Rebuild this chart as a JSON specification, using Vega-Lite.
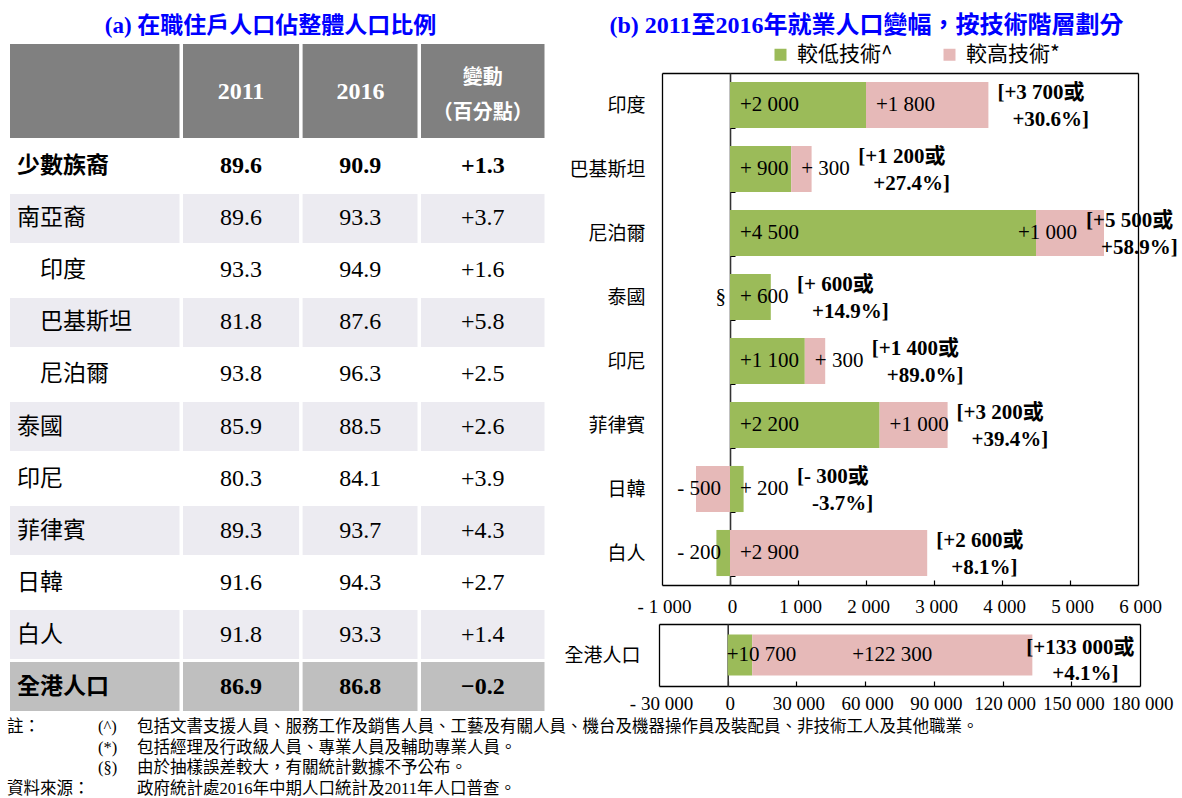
{
  "$schema": "https://vega.github.io/schema/vega-lite/v6.json",
  "width": 1182,
  "height": 798,
  "autosize": {"type": "none"},
  "padding": 0,
  "background": "#FFFFFF",
  "config": {
    "view": {"stroke": null},
    "axis": {"grid": false, "labelColor": "#000000", "domainColor": "#000000", "tickColor": "#000000"},
    "legend": {"padding": 0}
  },
  "datasets": {
    "table": [
      {"name": "少數族裔", "y2011": 89.6, "y2016": 90.9, "chg": 1.3},
      {"name": "南亞裔", "y2011": 89.6, "y2016": 93.3, "chg": 3.7},
      {"name": "印度", "y2011": 93.3, "y2016": 94.9, "chg": 1.6},
      {"name": "巴基斯坦", "y2011": 81.8, "y2016": 87.6, "chg": 5.8},
      {"name": "尼泊爾", "y2011": 93.8, "y2016": 96.3, "chg": 2.5},
      {"name": "泰國", "y2011": 85.9, "y2016": 88.5, "chg": 2.6},
      {"name": "印尼", "y2011": 80.3, "y2016": 84.1, "chg": 3.9},
      {"name": "菲律賓", "y2011": 89.3, "y2016": 93.7, "chg": 4.3},
      {"name": "日韓", "y2011": 91.6, "y2016": 94.3, "chg": 2.7},
      {"name": "白人", "y2011": 91.8, "y2016": 93.3, "chg": 1.4},
      {"name": "全港人口", "y2011": 86.9, "y2016": 86.8, "chg": -0.2}
    ],
    "header": [
      {"col": 0, "text": ""},
      {"col": 1, "text": "2011"},
      {"col": 2, "text": "2016"},
      {"col": 3, "text": ["變動", "（百分點）"]}
    ],
    "segments": [
      {"region": "印度", "skill": "較低技術^", "value": 2000, "label": "+2 000"},
      {"region": "印度", "skill": "較高技術*", "value": 1800, "label": "+1 800"},
      {"region": "巴基斯坦", "skill": "較低技術^", "value": 900, "label": "+ 900"},
      {"region": "巴基斯坦", "skill": "較高技術*", "value": 300, "label": "+ 300"},
      {"region": "尼泊爾", "skill": "較低技術^", "value": 4500, "label": "+4 500"},
      {"region": "尼泊爾", "skill": "較高技術*", "value": 1000, "label": "+1 000"},
      {"region": "泰國", "skill": "較低技術^", "value": 600, "label": "+ 600"},
      {"region": "泰國", "skill": "較高技術*", "value": null, "label": "§"},
      {"region": "印尼", "skill": "較低技術^", "value": 1100, "label": "+1 100"},
      {"region": "印尼", "skill": "較高技術*", "value": 300, "label": "+ 300"},
      {"region": "菲律賓", "skill": "較低技術^", "value": 2200, "label": "+2 200"},
      {"region": "菲律賓", "skill": "較高技術*", "value": 1000, "label": "+1 000"},
      {"region": "日韓", "skill": "較低技術^", "value": 200, "label": "+ 200"},
      {"region": "日韓", "skill": "較高技術*", "value": -500, "label": "- 500"},
      {"region": "白人", "skill": "較低技術^", "value": -200, "label": "- 200"},
      {"region": "白人", "skill": "較高技術*", "value": 2900, "label": "+2 900"}
    ],
    "overall": [
      {"region": "全港人口", "skill": "較低技術^", "value": 10700, "label": "+10 700"},
      {"region": "全港人口", "skill": "較高技術*", "value": 122300, "label": "+122 300"}
    ],
    "totals": [
      {"region": "印度", "total": "[+3 700或", "pct": "+30.6%]"},
      {"region": "巴基斯坦", "total": "[+1 200或", "pct": "+27.4%]"},
      {"region": "尼泊爾", "total": "[+5 500或", "pct": "+58.9%]"},
      {"region": "泰國", "total": "[+ 600或", "pct": "+14.9%]"},
      {"region": "印尼", "total": "[+1 400或", "pct": "+89.0%]"},
      {"region": "菲律賓", "total": "[+3 200或", "pct": "+39.4%]"},
      {"region": "日韓", "total": "[- 300或", "pct": "-3.7%]"},
      {"region": "白人", "total": "[+2 600或", "pct": "+8.1%]"},
      {"region": "全港人口", "total": "[+133 000或", "pct": "+4.1%]"}
    ],
    "notes": [
      {"line": 1, "head": "註：", "sym": "(^)", "body": "包括文書支援人員、服務工作及銷售人員、工藝及有關人員、機台及機器操作員及裝配員、非技術工人及其他職業。"},
      {"line": 2, "head": "", "sym": "(*)", "body": "包括經理及行政級人員、專業人員及輔助專業人員。"},
      {"line": 3, "head": "", "sym": "(§)", "body": "由於抽樣誤差較大，有關統計數據不予公布。"},
      {"line": 4, "head": "資料來源：", "sym": "", "body": "政府統計處2016年中期人口統計及2011年人口普查。"}
    ]
  },
  "layer": [
    {
      "data": {"name": "table"},
      "encoding": {
        "y": {"field": "name", "type": "nominal", "scale": {"domain": ["少數族裔", "南亞裔", "印度", "巴基斯坦", "尼泊爾", "泰國", "印尼", "菲律賓", "日韓", "白人", "全港人口"], "range": [142, 711], "paddingInner": 0.0577, "paddingOuter": 0}, "axis": null}
      },
      "layer": [
        {
          "mark": {"type": "rect", "x2Offset": -3.5},
          "encoding": {
            "x": {"datum": 0, "type": "quantitative", "scale": {"domain": [0, 1, 2, 3, 4], "range": [10, 183, 302.6, 421, 548], "nice": false, "zero": false}, "axis": null},
            "x2": {"datum": 1},
            "fill": {"condition": [{"test": "datum.name === '全港人口'", "value": "#BFBFBF"}, {"test": "indexof(['南亞裔','巴基斯坦','泰國','菲律賓','白人'], datum.name) >= 0", "value": "#ECEBF1"}], "value": "#FFFFFF"}
          }
        },
        {
          "mark": {"type": "rect", "x2Offset": -3.5},
          "encoding": {
            "x": {"datum": 1, "type": "quantitative", "scale": {"domain": [0, 1, 2, 3, 4], "range": [10, 183, 302.6, 421, 548], "nice": false, "zero": false}, "axis": null},
            "x2": {"datum": 2},
            "fill": {"condition": [{"test": "datum.name === '全港人口'", "value": "#BFBFBF"}, {"test": "indexof(['南亞裔','巴基斯坦','泰國','菲律賓','白人'], datum.name) >= 0", "value": "#ECEBF1"}], "value": "#FFFFFF"}
          }
        },
        {
          "mark": {"type": "rect", "x2Offset": -3.5},
          "encoding": {
            "x": {"datum": 2, "type": "quantitative", "scale": {"domain": [0, 1, 2, 3, 4], "range": [10, 183, 302.6, 421, 548], "nice": false, "zero": false}, "axis": null},
            "x2": {"datum": 3},
            "fill": {"condition": [{"test": "datum.name === '全港人口'", "value": "#BFBFBF"}, {"test": "indexof(['南亞裔','巴基斯坦','泰國','菲律賓','白人'], datum.name) >= 0", "value": "#ECEBF1"}], "value": "#FFFFFF"}
          }
        },
        {
          "mark": {"type": "rect", "x2Offset": -3.5},
          "encoding": {
            "x": {"datum": 3, "type": "quantitative", "scale": {"domain": [0, 1, 2, 3, 4], "range": [10, 183, 302.6, 421, 548], "nice": false, "zero": false}, "axis": null},
            "x2": {"datum": 4},
            "fill": {"condition": [{"test": "datum.name === '全港人口'", "value": "#BFBFBF"}, {"test": "indexof(['南亞裔','巴基斯坦','泰國','菲律賓','白人'], datum.name) >= 0", "value": "#ECEBF1"}], "value": "#FFFFFF"}
          }
        },
        {
          "mark": {"type": "text", "align": "left", "baseline": "middle", "font": "Noto Sans CJK TC", "fontSize": 23, "color": "#000000",
            "fontWeight": {"expr": "datum.name === '少數族裔' || datum.name === '全港人口' ? 'bold' : 'normal'"},
            "dx": {"expr": "indexof(['印度','巴基斯坦','尼泊爾'], datum.name) >= 0 ? 30 : 7"}},
          "encoding": {
            "x": {"datum": 0, "type": "quantitative", "scale": {"domain": [0, 1, 2, 3, 4], "range": [10, 183, 302.6, 421, 548], "nice": false, "zero": false}, "axis": null},
            "text": {"field": "name", "type": "nominal"}
          }
        },
        {
          "mark": {"type": "text", "align": "center", "baseline": "middle", "font": "Liberation Serif", "fontSize": 24, "color": "#000000", "dx": 58,
            "fontWeight": {"expr": "datum.name === '少數族裔' || datum.name === '全港人口' ? 'bold' : 'normal'"}},
          "encoding": {
            "x": {"datum": 1, "type": "quantitative", "scale": {"domain": [0, 1, 2, 3, 4], "range": [10, 183, 302.6, 421, 548], "nice": false, "zero": false}, "axis": null},
            "text": {"field": "y2011", "type": "quantitative", "format": ".1f"}
          }
        },
        {
          "mark": {"type": "text", "align": "center", "baseline": "middle", "font": "Liberation Serif", "fontSize": 24, "color": "#000000", "dx": 57.7,
            "fontWeight": {"expr": "datum.name === '少數族裔' || datum.name === '全港人口' ? 'bold' : 'normal'"}},
          "encoding": {
            "x": {"datum": 2, "type": "quantitative", "scale": {"domain": [0, 1, 2, 3, 4], "range": [10, 183, 302.6, 421, 548], "nice": false, "zero": false}, "axis": null},
            "text": {"field": "y2016", "type": "quantitative", "format": ".1f"}
          }
        },
        {
          "mark": {"type": "text", "align": "center", "baseline": "middle", "font": "Liberation Serif", "fontSize": 24, "color": "#000000", "dx": 61.8,
            "fontWeight": {"expr": "datum.name === '少數族裔' || datum.name === '全港人口' ? 'bold' : 'normal'"}},
          "encoding": {
            "x": {"datum": 3, "type": "quantitative", "scale": {"domain": [0, 1, 2, 3, 4], "range": [10, 183, 302.6, 421, 548], "nice": false, "zero": false}, "axis": null},
            "text": {"field": "chg", "type": "quantitative", "format": "+.1f"}
          }
        }
      ]
    },
    {
      "data": {"name": "header"},
      "encoding": {
        "y": {"datum": "h", "type": "nominal", "scale": {"domain": ["h"], "range": [44, 138], "paddingInner": 0, "paddingOuter": 0}, "axis": null}
      },
      "layer": [
        {
          "transform": [{"filter": "datum.col === 0"}],
          "mark": {"type": "rect", "x2Offset": -3.5, "color": "#808080"},
          "encoding": {
            "x": {"datum": 0, "type": "quantitative", "scale": {"domain": [0, 1, 2, 3, 4], "range": [10, 183, 302.6, 421, 548], "nice": false, "zero": false}, "axis": null},
            "x2": {"datum": 1}
          }
        },
        {
          "transform": [{"filter": "datum.col === 1"}],
          "mark": {"type": "rect", "x2Offset": -3.5, "color": "#808080"},
          "encoding": {
            "x": {"datum": 1, "type": "quantitative", "scale": {"domain": [0, 1, 2, 3, 4], "range": [10, 183, 302.6, 421, 548], "nice": false, "zero": false}, "axis": null},
            "x2": {"datum": 2}
          }
        },
        {
          "transform": [{"filter": "datum.col === 2"}],
          "mark": {"type": "rect", "x2Offset": -3.5, "color": "#808080"},
          "encoding": {
            "x": {"datum": 2, "type": "quantitative", "scale": {"domain": [0, 1, 2, 3, 4], "range": [10, 183, 302.6, 421, 548], "nice": false, "zero": false}, "axis": null},
            "x2": {"datum": 3}
          }
        },
        {
          "transform": [{"filter": "datum.col === 3"}],
          "mark": {"type": "rect", "x2Offset": -3.5, "color": "#808080"},
          "encoding": {
            "x": {"datum": 3, "type": "quantitative", "scale": {"domain": [0, 1, 2, 3, 4], "range": [10, 183, 302.6, 421, 548], "nice": false, "zero": false}, "axis": null},
            "x2": {"datum": 4}
          }
        },
        {
          "transform": [{"filter": "datum.col > 0"}],
          "mark": {"type": "text", "align": "center", "baseline": "middle", "color": "#FFFFFF", "fontWeight": "bold", "lineHeight": 35,
            "font": {"expr": "datum.col === 3 ? 'Noto Sans CJK TC' : 'Liberation Serif'"},
            "fontSize": {"expr": "datum.col === 3 ? 20 : 24"},
            "dx": {"expr": "datum.col === 3 ? 61.8 : 58"},
            "dy": {"expr": "datum.col === 3 ? -13 : 1"}},
          "encoding": {
            "x": {"field": "col", "type": "quantitative", "scale": {"domain": [0, 1, 2, 3, 4], "range": [10, 183, 302.6, 421, 548], "nice": false, "zero": false}, "axis": null},
            "text": {"field": "text", "type": "nominal"}
          }
        }
      ]
    },
    {
      "data": {"name": "header"},
      "mark": {"type": "point", "opacity": 0},
      "encoding": {
        "x": {"field": "col", "type": "quantitative", "scale": {"domain": [0, 1, 2, 3, 4], "range": [10, 183, 302.6, 421, 548], "nice": false, "zero": false},
          "axis": {"orient": "top", "offset": 0, "domain": false, "ticks": false, "labels": false, "title": "(a) 在職住戶人口佔整體人口比例", "titleX": 270, "titleY": 25, "titleAlign": "center", "titleBaseline": "middle", "titleFont": "Liberation Serif, Noto Sans CJK TC", "titleFontSize": 23, "titleFontWeight": "bold", "titleColor": "#0000FF"}}
      }
    },
    {
      "data": {"name": "segments"},
      "transform": [
        {"stack": "value", "groupby": ["region"], "sort": [{"field": "skill", "order": "ascending"}], "as": ["v0", "v1"], "offset": "zero"},
        {"joinaggregate": [{"op": "max", "field": "v1", "as": "end"}], "groupby": ["region"]}
      ],
      "encoding": {
        "y": {"field": "region", "type": "nominal", "scale": {"domain": ["印度", "巴基斯坦", "尼泊爾", "泰國", "印尼", "菲律賓", "日韓", "白人"], "range": [73, 585], "paddingInner": 0.28, "paddingOuter": 0.14}, "axis": null}
      },
      "layer": [
        {
          "transform": [{"filter": "isValid(datum.value)"}],
          "mark": {"type": "bar"},
          "encoding": {
            "x": {"field": "v0", "type": "quantitative", "scale": {"domain": [-1000, 6000], "range": [662, 1138], "nice": false, "zero": false}, "axis": null},
            "x2": {"field": "v1"},
            "color": {"field": "skill", "type": "nominal", "scale": {"domain": ["較低技術^", "較高技術*"], "range": ["#9BBB59", "#E6B9B8"]},
              "legend": {"orient": "none", "legendX": 770, "legendY": 44, "direction": "horizontal", "title": null, "symbolType": "square", "symbolSize": 144, "symbolStrokeWidth": 0, "labelFont": "Noto Sans CJK TC", "labelFontSize": 21, "labelColor": "#000000", "labelOffset": 6, "columnPadding": 46, "labelLimit": 300}}
          }
        },
        {
          "transform": [{"filter": "datum.value > 0"}],
          "mark": {"type": "text", "align": "left", "baseline": "middle", "font": "Liberation Serif", "fontSize": 21, "color": "#000000",
            "dx": {"expr": "datum.v1 > 5000 ? -18 : 10"}},
          "encoding": {
            "x": {"field": "v0", "type": "quantitative", "scale": {"domain": [-1000, 6000], "range": [662, 1138], "nice": false, "zero": false}, "axis": null},
            "text": {"field": "label", "type": "nominal"}
          }
        },
        {
          "transform": [{"filter": "!(datum.value > 0)"}],
          "mark": {"type": "text", "align": "right", "baseline": "middle", "font": "Liberation Serif", "fontSize": 21, "color": "#000000",
            "dx": {"expr": "datum.label === '§' ? -4 : -9"}},
          "encoding": {
            "x": {"datum": 0, "type": "quantitative", "scale": {"domain": [-1000, 6000], "range": [662, 1138], "nice": false, "zero": false}, "axis": null},
            "text": {"field": "label", "type": "nominal"}
          }
        },
        {
          "transform": [
            {"filter": "datum.skill === '較高技術*'"},
            {"lookup": "region", "from": {"data": {"name": "totals"}, "key": "region", "fields": ["total", "pct"]}}
          ],
          "mark": {"type": "text", "align": "left", "baseline": "middle", "font": "Liberation Serif, Noto Sans CJK TC", "fontSize": 21, "fontWeight": "bold", "color": "#000000", "dy": -12,
            "dx": {"expr": "(datum.value > 0 ? datum.value : datum.end) < 850 ? 67 - 0.068 * (datum.value > 0 ? datum.value : datum.end) : (datum.end > 5000 ? -18 : 9)"}},
          "encoding": {
            "x": {"field": "end", "type": "quantitative", "scale": {"domain": [-1000, 6000], "range": [662, 1138], "nice": false, "zero": false}, "axis": null},
            "text": {"field": "total", "type": "nominal"}
          }
        },
        {
          "transform": [
            {"filter": "datum.skill === '較高技術*'"},
            {"lookup": "region", "from": {"data": {"name": "totals"}, "key": "region", "fields": ["total", "pct"]}}
          ],
          "mark": {"type": "text", "align": "left", "baseline": "middle", "font": "Liberation Serif, Noto Sans CJK TC", "fontSize": 21, "fontWeight": "bold", "color": "#000000", "dy": 15,
            "dx": {"expr": "(datum.value > 0 ? datum.value : datum.end) < 850 ? 82 - 0.068 * (datum.value > 0 ? datum.value : datum.end) : (datum.end > 5000 ? -3 : 24)"}},
          "encoding": {
            "x": {"field": "end", "type": "quantitative", "scale": {"domain": [-1000, 6000], "range": [662, 1138], "nice": false, "zero": false}, "axis": null},
            "text": {"field": "pct", "type": "nominal"}
          }
        }
      ]
    },
    {
      "data": {"name": "segments"},
      "mark": {"type": "point", "opacity": 0},
      "encoding": {
        "x": {"field": "value", "type": "quantitative", "scale": {"domain": [-1000, 6000], "range": [662, 1138], "nice": false, "zero": false},
          "axis": {"orient": "bottom", "offset": -213, "values": [-1000, 0, 1000, 2000, 3000, 4000, 5000, 6000], "labelExpr": "(datum.value < 0 ? '- ' : '') + replace(format(abs(datum.value), ','), regexp(',', 'g'), ' ')", "domain": true, "domainWidth": 1.3, "ticks": false, "tickSize": 0, "labelPadding": 12, "labelOffset": 2, "labelFont": "Liberation Serif", "labelFontSize": 19, "labelFlush": false, "labelOverlap": false, "title": null}},
        "y": {"field": "region", "type": "nominal", "scale": {"domain": ["印度", "巴基斯坦", "尼泊爾", "泰國", "印尼", "菲律賓", "日韓", "白人"], "range": [73, 585], "paddingInner": 0.28, "paddingOuter": 0.14},
          "axis": {"orient": "left", "offset": -662, "domain": true, "domainWidth": 1.3, "ticks": false, "tickSize": 0, "labelPadding": 17, "labelFont": "Noto Sans CJK TC", "labelFontSize": 19, "labelLimit": 200, "title": null}}
      }
    },
    {
      "data": {"name": "segments"},
      "mark": {"type": "point", "opacity": 0},
      "encoding": {
        "x": {"field": "value", "type": "quantitative", "scale": {"domain": [-1000, 6000], "range": [662, 1138], "nice": false, "zero": false},
          "axis": {"orient": "top", "offset": -73, "domain": true, "domainWidth": 1.3, "ticks": false, "labels": false, "title": "(b) 2011至2016年就業人口變幅，按技術階層劃分", "titleX": 866, "titleY": -48, "titleAlign": "center", "titleBaseline": "middle", "titleFont": "Liberation Serif, Noto Sans CJK TC", "titleFontSize": 24, "titleFontWeight": "bold", "titleColor": "#0000FF"}},
        "y": {"field": "region", "type": "nominal", "scale": {"domain": ["印度", "巴基斯坦", "尼泊爾", "泰國", "印尼", "菲律賓", "日韓", "白人"], "range": [73, 585], "paddingInner": 0.28, "paddingOuter": 0.14},
          "axis": {"orient": "right", "offset": -44, "domain": true, "domainWidth": 1.3, "ticks": false, "labels": false, "title": null}}
      }
    },
    {
      "data": {"name": "segments"},
      "mark": {"type": "point", "opacity": 0},
      "encoding": {
        "x": {"field": "value", "type": "quantitative", "scale": {"domain": [-1000, 6000], "range": [662, 1138], "nice": false, "zero": false},
          "axis": {"orient": "top", "offset": -585, "domain": false, "ticks": true, "tickSize": 5, "tickWidth": 1.2, "labels": false, "values": [0, 1000, 2000, 3000, 4000, 5000], "title": null}},
        "y": {"field": "region", "type": "nominal", "scale": {"domain": ["印度", "巴基斯坦", "尼泊爾", "泰國", "印尼", "菲律賓", "日韓", "白人"], "range": [73, 585], "paddingInner": 0.28, "paddingOuter": 0.14},
          "axis": {"orient": "right", "offset": -452, "domain": true, "domainColor": "#333333", "domainWidth": 1.6, "ticks": true, "tickSize": 5, "tickBand": "extent", "labels": false, "title": null}}
      }
    },
    {
      "data": {"name": "overall"},
      "transform": [
        {"stack": "value", "groupby": ["region"], "sort": [{"field": "skill", "order": "ascending"}], "as": ["v0", "v1"], "offset": "zero"}
      ],
      "encoding": {
        "y": {"field": "region", "type": "nominal", "scale": {"domain": ["全港人口"], "range": [624, 686], "paddingInner": 0, "paddingOuter": 0.256}, "axis": null}
      },
      "layer": [
        {
          "mark": {"type": "bar"},
          "encoding": {
            "x": {"field": "v0", "type": "quantitative", "scale": {"domain": [-30000, 180000], "range": [659, 1140], "nice": false, "zero": false}, "axis": null},
            "x2": {"field": "v1"},
            "color": {"field": "skill", "type": "nominal", "scale": {"domain": ["較低技術^", "較高技術*"], "range": ["#9BBB59", "#E6B9B8"]},
              "legend": {"orient": "none", "legendX": 770, "legendY": 44, "direction": "horizontal", "title": null, "symbolType": "square", "symbolSize": 144, "symbolStrokeWidth": 0, "labelFont": "Noto Sans CJK TC", "labelFontSize": 21, "labelColor": "#000000", "labelOffset": 6, "columnPadding": 46, "labelLimit": 300}}
          }
        },
        {
          "mark": {"type": "text", "align": "left", "baseline": "middle", "font": "Liberation Serif", "fontSize": 21, "color": "#000000",
            "dx": {"expr": "datum.skill === '較低技術^' ? -1 : 100"}},
          "encoding": {
            "x": {"field": "v0", "type": "quantitative", "scale": {"domain": [-30000, 180000], "range": [659, 1140], "nice": false, "zero": false}, "axis": null},
            "text": {"field": "label", "type": "nominal"}
          }
        },
        {
          "transform": [
            {"filter": "datum.skill === '較高技術*'"},
            {"lookup": "region", "from": {"data": {"name": "totals"}, "key": "region", "fields": ["total", "pct"]}}
          ],
          "mark": {"type": "text", "align": "left", "baseline": "middle", "font": "Liberation Serif, Noto Sans CJK TC", "fontSize": 21, "fontWeight": "bold", "color": "#000000", "dx": -6, "dy": -7},
          "encoding": {
            "x": {"field": "v1", "type": "quantitative", "scale": {"domain": [-30000, 180000], "range": [659, 1140], "nice": false, "zero": false}, "axis": null},
            "text": {"field": "total", "type": "nominal"}
          }
        },
        {
          "transform": [
            {"filter": "datum.skill === '較高技術*'"},
            {"lookup": "region", "from": {"data": {"name": "totals"}, "key": "region", "fields": ["total", "pct"]}}
          ],
          "mark": {"type": "text", "align": "left", "baseline": "middle", "font": "Liberation Serif, Noto Sans CJK TC", "fontSize": 21, "fontWeight": "bold", "color": "#000000", "dx": 20, "dy": 19},
          "encoding": {
            "x": {"field": "v1", "type": "quantitative", "scale": {"domain": [-30000, 180000], "range": [659, 1140], "nice": false, "zero": false}, "axis": null},
            "text": {"field": "pct", "type": "nominal"}
          }
        }
      ]
    },
    {
      "data": {"name": "overall"},
      "mark": {"type": "point", "opacity": 0},
      "encoding": {
        "x": {"field": "value", "type": "quantitative", "scale": {"domain": [-30000, 180000], "range": [659, 1140], "nice": false, "zero": false},
          "axis": {"orient": "bottom", "offset": -112, "values": [-30000, 0, 30000, 60000, 90000, 120000, 150000, 180000], "labelExpr": "(datum.value < 0 ? '- ' : '') + replace(format(abs(datum.value), ','), regexp(',', 'g'), ' ')", "domain": true, "domainWidth": 1.3, "ticks": false, "tickSize": 0, "labelPadding": 8, "labelOffset": 2, "labelFont": "Liberation Serif", "labelFontSize": 19, "labelFlush": false, "labelOverlap": false, "title": null}},
        "y": {"field": "region", "type": "nominal", "scale": {"domain": ["全港人口"], "range": [624, 686], "paddingInner": 0, "paddingOuter": 0.256},
          "axis": {"orient": "left", "offset": -659, "domain": true, "domainWidth": 1.3, "ticks": false, "tickSize": 0, "labelPadding": 19, "labelFont": "Noto Sans CJK TC", "labelFontSize": 19, "labelLimit": 200, "title": null}}
      }
    },
    {
      "data": {"name": "overall"},
      "mark": {"type": "point", "opacity": 0},
      "encoding": {
        "x": {"field": "value", "type": "quantitative", "scale": {"domain": [-30000, 180000], "range": [659, 1140], "nice": false, "zero": false},
          "axis": {"orient": "top", "offset": -624, "domain": true, "domainWidth": 1.3, "ticks": false, "labels": false, "title": null}},
        "y": {"field": "region", "type": "nominal", "scale": {"domain": ["全港人口"], "range": [624, 686], "paddingInner": 0, "paddingOuter": 0.256},
          "axis": {"orient": "right", "offset": -42, "domain": true, "domainWidth": 1.3, "ticks": false, "labels": false, "title": null}}
      }
    },
    {
      "data": {"name": "overall"},
      "mark": {"type": "point", "opacity": 0},
      "encoding": {
        "x": {"field": "value", "type": "quantitative", "scale": {"domain": [-30000, 180000], "range": [659, 1140], "nice": false, "zero": false},
          "axis": {"orient": "top", "offset": -686, "domain": false, "ticks": true, "tickSize": 5, "tickWidth": 1.2, "labels": false, "values": [0, 30000, 60000, 90000, 120000, 150000], "title": null}},
        "y": {"field": "region", "type": "nominal", "scale": {"domain": ["全港人口"], "range": [624, 686], "paddingInner": 0, "paddingOuter": 0.256},
          "axis": {"orient": "right", "offset": -454.3, "domain": true, "domainColor": "#333333", "domainWidth": 1.6, "ticks": false, "labels": false, "title": null}}
      }
    },
    {
      "data": {"name": "notes"},
      "encoding": {
        "y": {"field": "line", "type": "ordinal", "scale": {"type": "point", "domain": [1, 2, 3, 4], "range": [727, 789], "padding": 0}, "axis": null}
      },
      "layer": [
        {
          "mark": {"type": "text", "align": "left", "baseline": "middle", "font": "Noto Sans CJK TC", "fontSize": 16.5, "color": "#000000"},
          "encoding": {
            "x": {"datum": 0, "type": "quantitative", "scale": {"domain": [0, 1, 2], "range": [7, 98, 137], "nice": false, "zero": false}, "axis": null},
            "text": {"field": "head", "type": "nominal"}
          }
        },
        {
          "mark": {"type": "text", "align": "left", "baseline": "middle", "font": "Liberation Serif", "fontSize": 16.5, "color": "#000000"},
          "encoding": {
            "x": {"datum": 1, "type": "quantitative", "scale": {"domain": [0, 1, 2], "range": [7, 98, 137], "nice": false, "zero": false}, "axis": null},
            "text": {"field": "sym", "type": "nominal"}
          }
        },
        {
          "mark": {"type": "text", "align": "left", "baseline": "middle", "font": "Liberation Serif, Noto Sans CJK TC", "fontSize": 16.5, "color": "#000000"},
          "encoding": {
            "x": {"datum": 2, "type": "quantitative", "scale": {"domain": [0, 1, 2], "range": [7, 98, 137], "nice": false, "zero": false}, "axis": null},
            "text": {"field": "body", "type": "nominal"}
          }
        }
      ]
    }
  ],
  "resolve": {"scale": {"x": "independent", "y": "independent"}}
}
